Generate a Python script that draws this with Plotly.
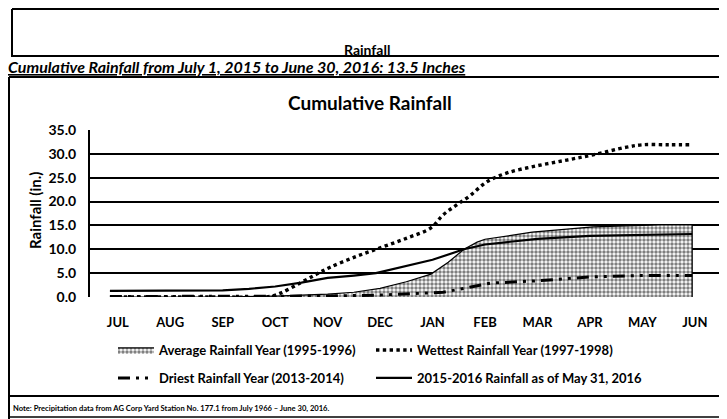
import plotly.graph_objects as go

# ---------------- data ----------------
months = ["JUL", "AUG", "SEP", "OCT", "NOV", "DEC", "JAN", "FEB", "MAR", "APR", "MAY", "JUN"]
y_ticks = [0, 5, 10, 15, 20, 25, 30, 35]

avg_x = [-0.15, 1, 2, 3, 4, 4.5, 5, 5.5, 5.97, 6.3, 6.6, 6.85, 7.0, 7.5, 7.9, 9.06, 10.33, 10.95, 10.95]
avg_y = [0, 0, 0, 0.2, 0.6, 1.0, 1.8, 3.2, 4.8, 7.3, 10.0, 11.5, 12.1, 12.9, 13.6, 14.7, 15.1, 15.1, 0]

wet_x = [-0.15, 1, 2, 2.9, 3.1, 3.47, 3.79, 4.04, 4.5, 5.0, 5.5, 5.97, 6.2, 6.46, 6.71, 7.03, 7.42,
         7.99, 8.56, 9.06, 9.7, 10.0, 10.5, 10.9]
wet_y = [0, 0, 0, 0.1, 0.8, 2.9, 4.8, 6.2, 8.3, 10.3, 12.3, 14.5, 17.2, 19.3, 21.2, 24.1, 26.0,
         27.5, 28.7, 29.8, 31.4, 31.9, 31.9, 31.9]

dry_x = [-0.15, 1, 2, 3, 4, 5, 5.5, 6.2, 6.6, 7.1, 8, 9, 10, 10.95]
dry_y = [0.1, 0.1, 0.1, 0.1, 0.2, 0.4, 0.6, 1.0, 1.8, 2.9, 3.4, 4.2, 4.5, 4.5]

cur_x = [-0.15, 1, 2, 2.5, 3, 3.5, 4, 4.5, 4.92, 6.0, 6.6, 7.0, 8, 9, 10, 10.95]
cur_y = [1.3, 1.3, 1.4, 1.7, 2.2, 3.0, 4.0, 4.5, 5.0, 7.8, 10.0, 11.0, 12.2, 12.8, 13.0, 13.2]

# ---------------- geometry helpers (page pixels -> paper) ----------------
W, H = 727, 419
OFF = 8  # default page body margin
# plot area in page pixels: x 90..720, y 130..297
L = 90 - OFF
T = 130 - OFF
R = W - (720 - OFF)
B = H - (297 - OFF)
PW, PH = W - L - R, H - T - B


def px(x):
    return (x - OFF - L) / PW


def py(y):
    return (H - B - (y - OFF)) / PH


FONT = "Lato"

fig = go.Figure()

fig.add_trace(go.Scatter(
    x=avg_x, y=avg_y, mode="lines", name="Average Rainfall Year (1995-1996)",
    line=dict(color="black", width=1.2), fill="tozeroy",
    fillpattern=dict(shape=".", fgcolor="black", bgcolor="white", size=4, solidity=0.6),
    legend="legend",
))
fig.add_trace(go.Scatter(
    x=wet_x, y=wet_y, mode="lines", name="Wettest Rainfall Year (1997-1998)",
    line=dict(color="black", width=3.4, dash="dot", shape="spline"),
    legend="legend2",
))
fig.add_trace(go.Scatter(
    x=dry_x, y=dry_y, mode="lines", name="Driest Rainfall Year (2013-2014)",
    line=dict(color="black", width=3, dash="12px,6px,3px,6px,3px,6px"),
    legend="legend3",
))
fig.add_trace(go.Scatter(
    x=cur_x, y=cur_y, mode="lines", name="2015-2016 Rainfall as of May 31, 2016",
    line=dict(color="black", width=2.2),
    legend="legend4",
))

fig.update_xaxes(
    range=[-0.53, 11.48], tickmode="array", tickvals=list(range(12)), ticktext=months,
    showgrid=False, zeroline=False, showline=False, ticks="",
    tickfont=dict(family=FONT, size=13, color="black", weight="bold"), ticklabelstandoff=16,
)
fig.update_yaxes(
    range=[0, 35], tickmode="array", tickvals=y_ticks, tickformat=".1f",
    showgrid=True, gridcolor="black", gridwidth=1.6, zeroline=False,
    showline=True, linecolor="black", linewidth=2, mirror=True, ticks="",
    tickfont=dict(family=FONT, size=14, color="black", weight="bold"), ticklabelstandoff=9,
)

legend_common = dict(
    orientation="h", xanchor="left", yanchor="middle", itemwidth=36,
    font=dict(family=FONT, size=13, color="black", weight="bold"),
    bgcolor="rgba(0,0,0,0)",
)


def hline(x0, x1, y, w=2):
    return dict(type="line", xref="paper", yref="paper", x0=px(x0), x1=px(x1), y0=py(y), y1=py(y),
                line=dict(color="black", width=w))


def vline(x, y0, y1, w=2):
    return dict(type="line", xref="paper", yref="paper", x0=px(x), x1=px(x), y0=py(y0), y1=py(y1),
                line=dict(color="black", width=w))


shapes = [
    # top box
    hline(12, 740, 9),
    hline(11, 740, 56),
    vline(12, 9, 56),
    # chart box
    hline(9, 740, 77),
    vline(9, 77, 396),
    hline(8, 740, 396),
    # note box
    vline(9, 396, 430),
    hline(8, 740, 417, 1.5),
]

annotations = [
    dict(text="Rainfall", x=px(367), y=py(49), xref="paper", yref="paper", showarrow=False,
         xanchor="center", yanchor="middle", font=dict(family=FONT, size=14, color="black", weight="bold")),
    dict(text="<u><i>Cumulative Rainfall from July 1, 2015 to June 30, 2016: 13.5 Inches</i></u>",
         x=px(6), y=py(66), xref="paper", yref="paper", showarrow=False,
         xanchor="left", yanchor="middle", font=dict(family=FONT, size=16, color="black", weight="bold")),
    dict(text="Cumulative Rainfall", x=px(370), y=py(102), xref="paper", yref="paper", showarrow=False,
         xanchor="center", yanchor="middle", font=dict(family=FONT, size=19, color="black", weight="bold")),
    dict(text="Rainfall (in.)", x=px(35), y=py(211), xref="paper", yref="paper", showarrow=False,
         textangle=-90, xanchor="center", yanchor="middle",
         font=dict(family=FONT, size=15, color="black", weight="bold")),
    dict(text="Note: Precipitation data from AG Corp Yard Station No. 177.1 from July 1966 \u2013 June 30, 2016.",
         x=px(11), y=py(408), xref="paper", yref="paper", showarrow=False,
         xanchor="left", yanchor="middle", font=dict(family=FONT, size=7.6, color="black", weight="bold")),
]

fig.update_layout(
    width=W, height=H, autosize=False,
    margin=dict(l=L, r=R, t=T, b=B, pad=0),
    paper_bgcolor="white", plot_bgcolor="white",
    showlegend=True,
    legend=dict(x=px(113), y=py(350), **legend_common),
    legend2=dict(x=px(371), y=py(350), **legend_common),
    legend3=dict(x=px(113), y=py(378), **legend_common),
    legend4=dict(x=px(371), y=py(378), **legend_common),
    shapes=shapes, annotations=annotations,
)

fig.write_html("out.html")
